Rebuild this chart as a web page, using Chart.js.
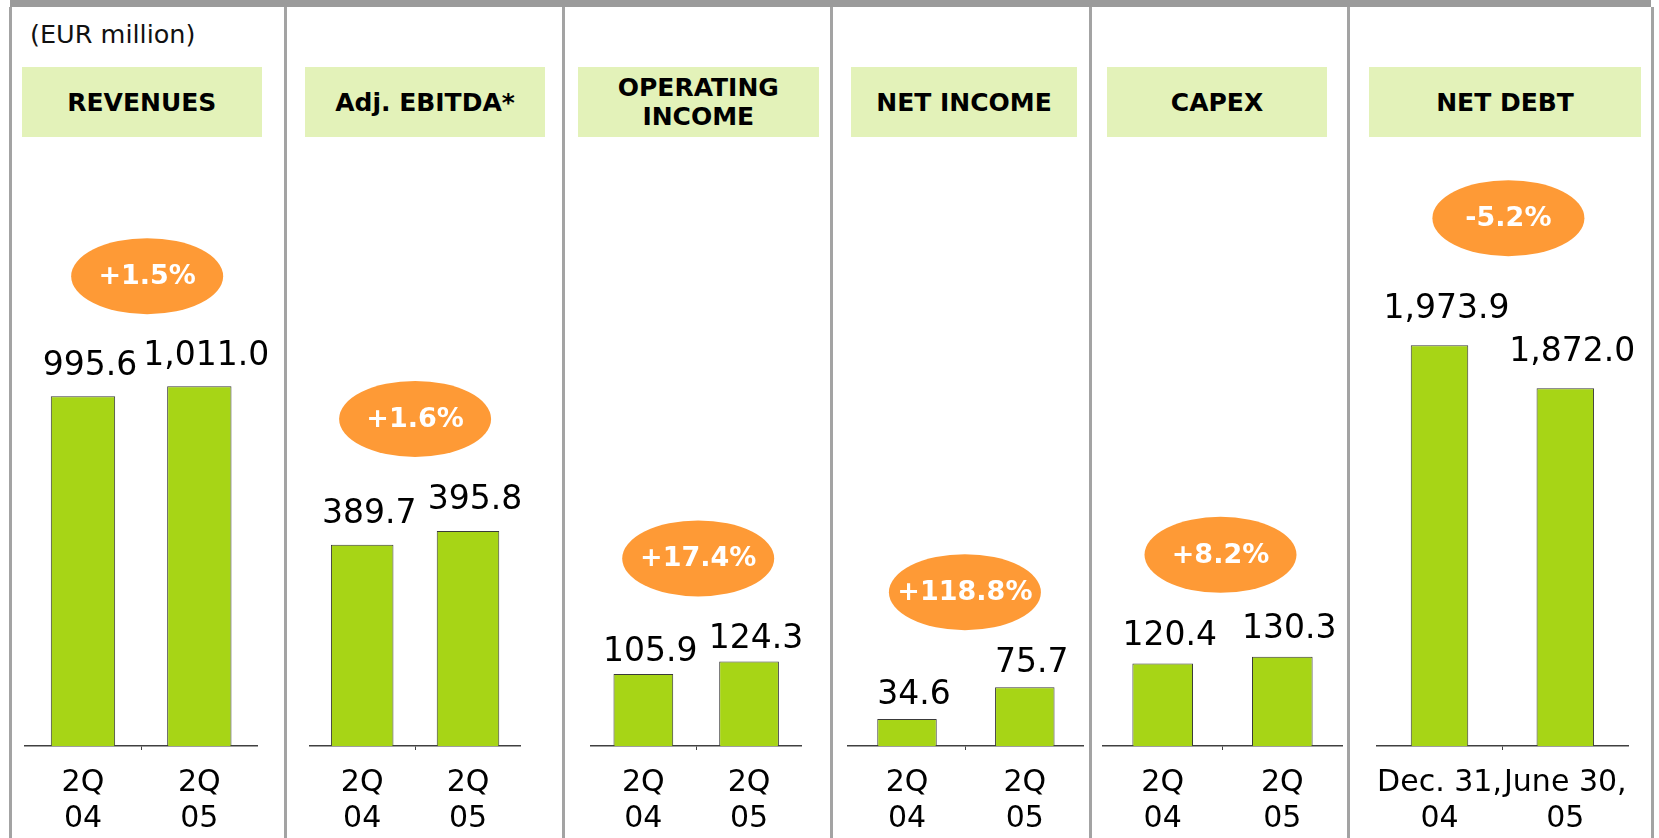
<!DOCTYPE html>
<html>
<head>
<meta charset="utf-8">
<script src="https://cdn.jsdelivr.net/npm/chart.js@4.4.1/dist/chart.umd.min.js"></script>
<style>
  html, body { margin:0; padding:0; background:#fff; }
  body { width:1659px; height:838px; position:relative; overflow:hidden; font-family:"DejaVu Sans", Verdana, sans-serif; }
  .rule { position:absolute; background:#a3a3a3; }
  .unit { position:absolute; left:30px; top:19px; font-size:25.5px; color:#111; white-space:nowrap; }
  .head { position:absolute; top:67px; height:70px; background:#e3f2b9; display:flex; align-items:center; justify-content:center; text-align:center; font-weight:bold; font-size:25px; line-height:29px; color:#000; }
  canvas { position:absolute; }
</style>
</head>
<body>
<div class="rule" style="left:10px;top:0;width:1641px;height:7px;background:#9b9b9b"></div>
<div class="unit">(EUR million)</div>
<script>
// values in EUR million
const panelTitles = [["REVENUES"], ["Adj. EBITDA*"], ["OPERATING", "INCOME"], ["NET INCOME"], ["CAPEX"], ["NET DEBT"]];
const quarterLabels = [["2Q", "04"], ["2Q", "05"]];
const debtDateLabels = [["Dec. 31,", "04"], ["June 30,", "05"]];
const revenues = [995.6, 1011.0];
const adjEbitda = [389.7, 395.8];
const operatingIncome = [105.9, 124.3];
const netIncome = [34.6, 75.7];
const capex = [120.4, 130.3];
const netDebt = [1973.9, 1872.0];
const changes = ["+1.5%", "+1.6%", "+17.4%", "+118.8%", "+8.2%", "-5.2%"];

const series = [revenues, adjEbitda, operatingIncome, netIncome, capex, netDebt];
const labelSets = [quarterLabels, quarterLabels, quarterLabels, quarterLabels, quarterLabels, debtDateLabels];

// page layout (px) and the value range each small chart shows
const dividers = [10.5, 285.5, 563.5, 831.5, 1090.5, 1348.5, 1652.5];
const panels = [
  {head:[21.5, 262],  span:[12, 284],    area:[24.8, 257.5],    y:[457, 1390],  bar:0.553, gap:21, lift:110, dx:6},
  {head:[305, 545],   span:[287, 562],   area:[309.3, 520.9],   y:[300, 570],   bar:0.591, gap:22, lift:112, dx:0},
  {head:[578, 818.6], span:[565, 830],   area:[590.5, 801.9],   y:[0, 891],     bar:0.565, gap:13, lift:103, dx:2},
  {head:[851, 1077],  span:[833, 1089],  area:[848.1, 1083.7],  y:[0, 780],     bar:0.505, gap:15, lift:95,  dx:-1},
  {head:[1107, 1327], span:[1092, 1347], area:[1102.9, 1342.1], y:[0, 885],     bar:0.507, gap:19, lift:102, dx:-2},
  {head:[1369, 1641], span:[1350, 1651], area:[1376.6, 1628.2], y:[1024, 2460], bar:0.457, gap:27, lift:127, dx:6}
];
const canvasTop = 140, canvasHeight = 698, axisHeight = 92;

const fmt = v => v.toLocaleString("en-US", {minimumFractionDigits:1, maximumFractionDigits:1});

dividers.forEach(x => {
  const d = document.createElement("div");
  d.className = "rule";
  d.style.cssText = `left:${x - 1.5}px;top:7px;width:3px;height:831px`;
  document.body.appendChild(d);
});

const annotate = {
  id: "annotate",
  afterDatasetsDraw(chart) {
    const p = chart.options.plugins.annotate;
    const ctx = chart.ctx;
    const bars = chart.getDatasetMeta(0).data;
    const vals = chart.data.datasets[0].data;
    ctx.save();
    ctx.fillStyle = "#000";
    ctx.font = '33px "DejaVu Sans"';
    ctx.textAlign = "center";
    ctx.textBaseline = "alphabetic";
    bars.forEach((b, i) => ctx.fillText(fmt(vals[i]), b.x + 7, b.y - p.gap));
    const top = Math.min(...bars.map(b => b.y));
    const cx = (chart.chartArea.left + chart.chartArea.right) / 2 + p.dx;
    const cy = top - p.lift;
    ctx.fillStyle = "#fe9a36";
    ctx.beginPath();
    ctx.ellipse(cx, cy, 76, 38, 0, 0, Math.PI * 2);
    ctx.fill();
    ctx.fillStyle = "#fff";
    ctx.font = 'bold 27px "DejaVu Sans"';
    ctx.textBaseline = "middle";
    ctx.fillText(p.change, cx, cy + 1);
    ctx.restore();
  }
};

panels.forEach((p, i) => {
  const h = document.createElement("div");
  h.className = "head";
  h.style.left = p.head[0] + "px";
  h.style.width = (p.head[1] - p.head[0]) + "px";
  h.innerHTML = panelTitles[i].join("<br>");
  document.body.appendChild(h);

  const w = p.span[1] - p.span[0];
  const c = document.createElement("canvas");
  c.width = w; c.height = canvasHeight;
  c.style.left = p.span[0] + "px";
  c.style.top = canvasTop + "px";
  c.style.width = w + "px";
  c.style.height = canvasHeight + "px";
  document.body.appendChild(c);

  new Chart(c, {
    type: "bar",
    data: {
      labels: labelSets[i],
      datasets: [{
        data: series[i],
        backgroundColor: "#a7d516",
        borderColor: "#3a3a3a",
        borderWidth: 1,
        barPercentage: p.bar,
        categoryPercentage: 1
      }]
    },
    options: {
      responsive: false,
      animation: false,
      devicePixelRatio: 1,
      layout: {padding: {left: p.area[0] - p.span[0], right: p.span[1] - p.area[1], top: 0, bottom: 0}},
      plugins: {
        legend: {display: false},
        tooltip: {enabled: false},
        annotate: {gap: p.gap, lift: p.lift, dx: p.dx, change: changes[i]}
      },
      scales: {
        x: {
          afterFit: s => { s.height = axisHeight; },
          border: {display: true, color: "#404040", width: 1.5},
          grid: {
            drawOnChartArea: false,
            drawTicks: true,
            tickLength: 4,
            color: ctx => ctx.index === 1 ? "#404040" : "rgba(0,0,0,0)"
          },
          ticks: {
            color: "#000",
            padding: 15,
            maxRotation: 0,
            autoSkip: false,
            font: {family: "DejaVu Sans", size: 30, lineHeight: 1.2}
          }
        },
        y: {display: false, min: p.y[0], max: p.y[1]}
      }
    },
    plugins: [annotate]
  });
});
</script>
</body>
</html>
